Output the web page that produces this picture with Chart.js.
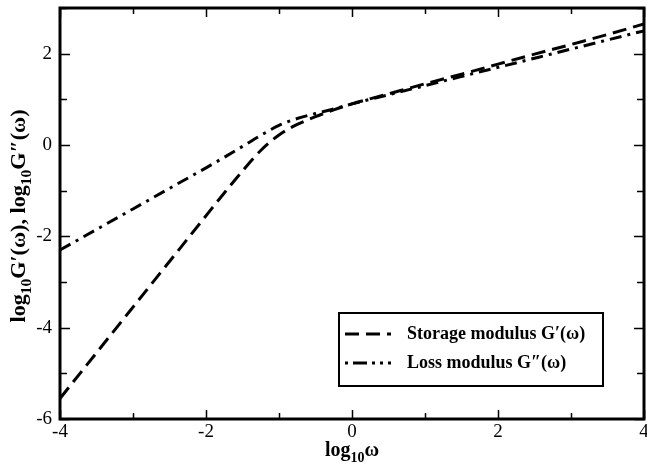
<!DOCTYPE html>
<html>
<head>
<meta charset="utf-8">
<script src="https://cdn.jsdelivr.net/npm/chart.js@4.4.1/dist/chart.umd.min.js"></script>
<style>
    html, body { margin: 0; padding: 0; background: #fff; }
    #wrap { width: 647px; height: 470px; position: relative; }
</style>
</head>
<body>
<div id="wrap"><canvas id="modulusChart"></canvas></div>
<script>
// log10(omega) sample points
var logOmega = [-4, -3.5, -3, -2.5, -2, -1.75, -1.5, -1.25, -1, -0.75, -0.5, -0.25, 0, 0.5, 1, 1.5, 2, 2.5, 3, 3.5, 4];
// log10 G'(omega), storage modulus
var storage = [-5.55, -4.55, -3.55, -2.55, -1.55, -1.05, -0.57, -0.12, 0.22, 0.45, 0.62, 0.77, 0.9, 1.12, 1.34, 1.55, 1.77, 1.99, 2.2, 2.42, 2.65];
// log10 G''(omega), loss modulus
var loss = [-2.3, -1.85, -1.4, -0.95, -0.5, -0.27, -0.03, 0.21, 0.43, 0.58, 0.69, 0.79, 0.9, 1.1, 1.3, 1.5, 1.7, 1.9, 2.1, 2.3, 2.5];
var xTicks = [-4, -2, 0, 2, 4];
var yTicks = [-6, -4, -2, 0, 2];
var seriesNames = ['Storage modulus G\u2032(\u03c9)', 'Loss modulus G\u2033(\u03c9)'];

var serif = '"Liberation Serif", "Times New Roman", serif';

function toPoints(xs, ys) {
    return xs.map(function(x, i) { return { x: x, y: ys[i] }; });
}

// draw "log" + small "10" + rest, starting at x, baseline y
function drawLogLabel(ctx, x, y, rest, size) {
    ctx.font = 'bold ' + size + 'px ' + serif;
    ctx.fillText('log', x, y);
    x += ctx.measureText('log').width;
    ctx.font = 'bold ' + Math.round(size * 0.7) + 'px ' + serif;
    ctx.fillText('10', x, y + size * 0.3);
    x += ctx.measureText('10').width;
    ctx.font = 'bold ' + size + 'px ' + serif;
    ctx.fillText(rest, x, y);
    return x + ctx.measureText(rest).width;
}

function logLabelWidth(ctx, parts, size) {
    var w = 0;
    parts.forEach(function(p) {
        ctx.font = 'bold ' + size + 'px ' + serif;
        w += ctx.measureText('log').width + ctx.measureText(p).width;
        ctx.font = 'bold ' + Math.round(size * 0.7) + 'px ' + serif;
        w += ctx.measureText('10').width;
    });
    return w;
}

var framePlugin = {
    id: 'frame',
    afterDraw: function(chart) {
        var ctx = chart.ctx;
        var a = chart.chartArea;
        var xs = chart.scales.x;
        var ys = chart.scales.y;
        ctx.save();
        ctx.strokeStyle = '#000';

        // inward ticks on all four sides
        ctx.lineWidth = 1.5;
        for (var v = -4; v <= 4; v++) {
            var px = Math.round(xs.getPixelForValue(v)) + 0.5;
            var len = (v % 2 === 0) ? 9 : 6;
            ctx.beginPath();
            ctx.moveTo(px, a.bottom); ctx.lineTo(px, a.bottom - len);
            ctx.moveTo(px, a.top); ctx.lineTo(px, a.top + len);
            ctx.stroke();
        }
        for (var w = -6; w <= 3; w++) {
            var py = Math.round(ys.getPixelForValue(w)) + 0.5;
            var len2 = (w % 2 === 0) ? 10 : 7;
            ctx.beginPath();
            ctx.moveTo(a.left, py); ctx.lineTo(a.left + len2, py);
            ctx.moveTo(a.right, py); ctx.lineTo(a.right - len2, py);
            ctx.stroke();
        }

        // frame
        ctx.lineWidth = 3;
        ctx.strokeRect(a.left, a.top, a.right - a.left, a.bottom - a.top);

        // axis titles
        ctx.fillStyle = '#000';
        ctx.textBaseline = 'alphabetic';
        var xw = logLabelWidth(ctx, ['\u03c9'], 20);
        drawLogLabel(ctx, (a.left + a.right) / 2 - xw / 2, 456, '\u03c9', 20);

        ctx.save();
        ctx.translate(25, 216);
        ctx.rotate(-Math.PI / 2);
        var ysz = 20;
        var yw = logLabelWidth(ctx, ['G\u2032(\u03c9), ', 'G\u2033(\u03c9)'], ysz);
        ctx.scale(213 / yw, 1);
        var cx = -yw / 2;
        cx = drawLogLabel(ctx, cx, 0, 'G\u2032(\u03c9), ', ysz);
        drawLogLabel(ctx, cx, 0, 'G\u2033(\u03c9)', ysz);
        ctx.restore();

        // legend box
        var lx = 339, ly = 313, lw = 264, lh = 73;
        ctx.fillStyle = '#fff';
        ctx.fillRect(lx, ly, lw, lh);
        ctx.lineWidth = 2;
        ctx.strokeRect(lx, ly, lw, lh);
        var dashes = [[14, 7], [3, 5, 14, 5, 3, 5]];
        ctx.font = 'bold 18px ' + serif;
        ctx.textBaseline = 'middle';
        for (var i = 0; i < 2; i++) {
            var ry = ly + 21 + i * 29;
            ctx.lineWidth = 3;
            ctx.setLineDash(dashes[i]);
            ctx.beginPath();
            ctx.moveTo(lx + 6, ry); ctx.lineTo(lx + 52, ry);
            ctx.stroke();
            ctx.setLineDash([]);
            ctx.fillStyle = '#000';
            ctx.fillText(seriesNames[i], lx + 68, ry);
        }
        ctx.restore();
    }
};

new Chart(document.getElementById('modulusChart'), {
    type: 'line',
    data: {
        datasets: [{
            label: seriesNames[0],
            data: toPoints(logOmega, storage),
            borderColor: '#000',
            borderWidth: 3,
            borderDash: [14, 7],
            pointRadius: 0,
            cubicInterpolationMode: 'monotone',
            fill: false
        }, {
            label: seriesNames[1],
            data: toPoints(logOmega, loss),
            borderColor: '#000',
            borderWidth: 3,
            borderDash: [12, 6, 3, 6],
            pointRadius: 0,
            cubicInterpolationMode: 'monotone',
            fill: false
        }]
    },
    options: {
        responsive: true,
        maintainAspectRatio: false,
        animation: false,
        layout: { padding: { top: 8, right: 3, left: 0, bottom: 0 } },
        plugins: {
            legend: { display: false },
            tooltip: { enabled: false }
        },
        scales: {
            x: {
                type: 'linear',
                min: -4,
                max: 4,
                afterFit: function(s) { s.height = 51; s.paddingLeft = 0; s.paddingRight = 0; },
                afterBuildTicks: function(s) { s.ticks = xTicks.map(function(v) { return { value: v }; }); },
                grid: { display: false, drawTicks: false },
                border: { display: false },
                ticks: {
                    padding: 2,
                    color: '#000',
                    maxRotation: 0,
                    font: { family: serif, size: 19 }
                }
            },
            y: {
                type: 'linear',
                min: -6,
                max: 3,
                afterFit: function(s) { s.width = 60; s.paddingTop = 0; s.paddingBottom = 0; },
                afterBuildTicks: function(s) { s.ticks = yTicks.map(function(v) { return { value: v }; }); },
                grid: { display: false, drawTicks: false },
                border: { display: false },
                ticks: {
                    padding: 8,
                    color: '#000',
                    font: { family: serif, size: 19 }
                }
            }
        }
    },
    plugins: [framePlugin]
});
</script>
</body>
</html>
